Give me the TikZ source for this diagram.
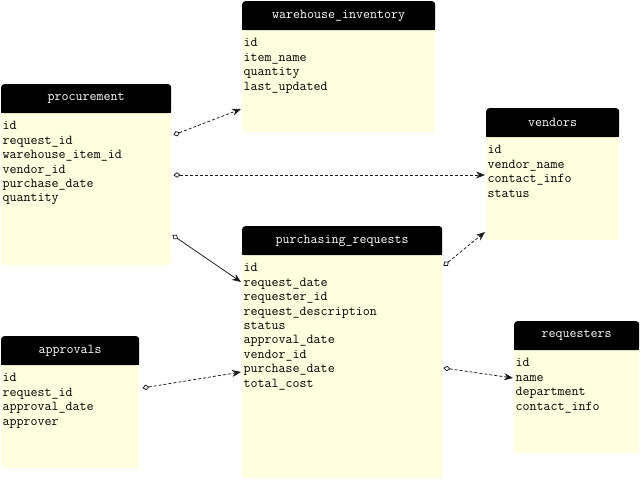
\documentclass[tikz,border=0pt]{standalone}
\usepackage{fontspec}
\usetikzlibrary{arrows.meta,calc}
\definecolor{bodyfill}{HTML}{FFFFE0}
\tikzset{
  tbl/.style={fill=bodyfill, rounded corners=3pt, anchor=north west, inner sep=0pt, draw=none},
  hdr/.style={fill=black, rounded corners=3pt, anchor=north west, inner sep=0pt, text=white,
              font=\ttfamily\fontsize{13.6}{14}\selectfont, minimum height=29pt},
  fld/.style={anchor=base west, inner sep=0pt, text=black, font=\ttfamily\fontsize{13.6}{14}\selectfont},
  relbase/.style={draw=black!90, line width=0.75pt,
    {Diamond[open,length=7pt,width=5.5pt]}-{Stealth[length=9pt,width=7pt]}},
  rel/.style={relbase, dash pattern=on 3pt off 2pt},
  relsolid/.style={relbase}
}
\newcommand\erdtbl[7]{%
  \node[tbl, minimum width=#4pt, minimum height=#5pt] (#1) at (#2,#3) {};
  \node[hdr, minimum width=#4pt] (#1-h) at (#2,#3) {#6};
  \fill[black] (#1-h.south west) rectangle ([yshift=5pt]#1-h.south east);
  \foreach \f [count=\i] in {#7}
    \node[fld] (#1-\i) at ($(#1.north west)+(1.5,{29+16.9+14.4*(\i-1)})$) {\f};
}
\begin{document}
\begin{tikzpicture}[x=1pt,y=-1pt]
\useasboundingbox (0,0) rectangle (640,480);
\fill[white] (0,0) rectangle (640,480);

\erdtbl{wh}{242}{1}{193}{131}{warehouse\_inventory}{id,item\_name,quantity,last\_updated}
\erdtbl{proc}{1}{84}{170}{181}{procurement}{id,request\_id,warehouse\_item\_id,vendor\_id,purchase\_date,quantity}
\erdtbl{ven}{486}{108}{133}{132}{vendors}{id,vendor\_name,contact\_info,status}
\erdtbl{pr}{242}{226}{200}{252}{purchasing\_requests}{id,request\_date,requester\_id,request\_description,status,approval\_date,vendor\_id,purchase\_date,total\_cost}
\erdtbl{appr}{1}{336}{138}{132}{approvals}{id,request\_id,approval\_date,approver}
\erdtbl{req}{514}{321}{125}{132}{requesters}{id,name,department,contact\_info}

\draw[rel] ($(proc.north east)+(2,51)$) -- ($(wh.north west)+(-1,108)$);
\draw[rel] ($(proc.north east)+(2,91)$) -- ($(ven.north west)+(-1,67)$);
\draw[relsolid] ($(proc.north east)+(1,151)$) -- ($(pr.north west)+(-1,56)$);
\draw[rel] ($(appr.north east)+(3,52)$) -- ($(pr.north west)+(-1,146)$);
\draw[rel] ($(pr.north east)+(1,40)$) -- ($(ven.north west)+(-1,124)$);
\draw[rel] ($(pr.north east)+(1,142)$) -- ($(req.north west)+(-1,57)$);
\end{tikzpicture}
\end{document}
